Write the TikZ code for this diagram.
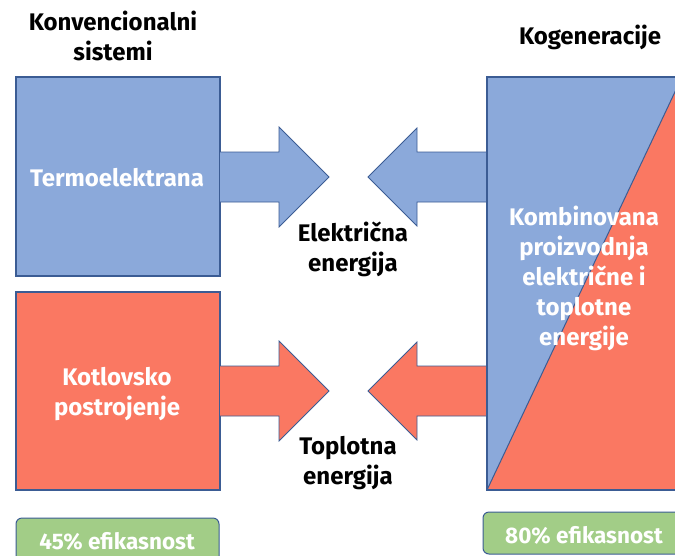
\documentclass[tikz,border=0pt]{standalone}
\usepackage{fontspec}
\setmainfont{Fira Sans}
\usepackage{tikz}

\definecolor{elblue}{HTML}{8BA9DA}
\definecolor{heatred}{HTML}{FA7862}
\definecolor{effgreen}{HTML}{A2CD87}
\definecolor{edgeblue}{HTML}{3B5C94}

\tikzset{
  box/.style={draw=edgeblue,line width=1.2pt},
  bigarrow/.style={draw=edgeblue,line width=0.8pt,line join=miter},
  effbox/.style={draw=edgeblue,line width=1pt,fill=effgreen,rounded corners=6pt},
  txt/.style={font=\bfseries\fontsize{24}{30}\selectfont,align=center},
  boxtxt/.style={txt,text=white},
  efftxt/.style={font=\bfseries\fontsize{22.5}{26}\selectfont,text=white}
}

\begin{document}
\begin{tikzpicture}[x=1pt,y=-1pt]
\useasboundingbox (0,0) rectangle (675,555);
\clip (0,0) rectangle (675,555);

% konvencionalni sistemi
\begin{scope}
  \draw[box,fill=elblue] (16,77) rectangle (220,276);
  \filldraw[bigarrow,fill=elblue] (220,152) -- (279,152) -- (279,127) -- (329,177)
    -- (279,227) -- (279,202) -- (220,202);
  \draw[box,fill=heatred] (16,292) rectangle (220,490);
  \filldraw[bigarrow,fill=heatred] (220,366) -- (279,366) -- (279,341) -- (329,391)
    -- (279,441) -- (279,416) -- (220,416);
  \draw[effbox] (16,518) rectangle (219,580);
\end{scope}

% kogeneracija
\begin{scope}
  \filldraw[bigarrow,fill=elblue] (487,152) -- (417,152) -- (417,128) -- (368,177)
    -- (417,226) -- (417,202) -- (487,202);
  \filldraw[bigarrow,fill=heatred] (487,366) -- (417,366) -- (417,342) -- (368,391)
    -- (417,440) -- (417,416) -- (487,416);
  \fill[elblue] (487,77) rectangle (682,490);
  \fill[heatred] (487,490) -- (682,77) -- (682,490) -- cycle;
  \draw[edgeblue,line width=1pt] (487,490) -- (682,77);
  \draw[box] (487,77) rectangle (682,490);
  \draw[effbox] (483,512) rectangle (700,554);
\end{scope}

% tekst
\node[txt] (konv) at (113,36) {Konvencionalni\\sistemi};
\node[txt] (kogen) at (590,37) {Kogeneracije};
\node[boxtxt] (termo) at (117,178) {Termoelektrana};
\node[boxtxt] (kotlo) at (117,394) {Kotlovsko\\postrojenje};
\node[boxtxt] (kombi) at (584,278) {Kombinovana\\proizvodnja\\električne i\\toplotne\\energije};
\node[txt] (elen) at (353,249) {Električna\\energija};
\node[txt] (toen) at (348,463) {Toplotna\\energija};
\node[efftxt] (eff1) at (117,541) {45\% efikasnost};
\node[efftxt] (eff2) at (584,535) {80\% efikasnost};
\end{tikzpicture}
\end{document}
